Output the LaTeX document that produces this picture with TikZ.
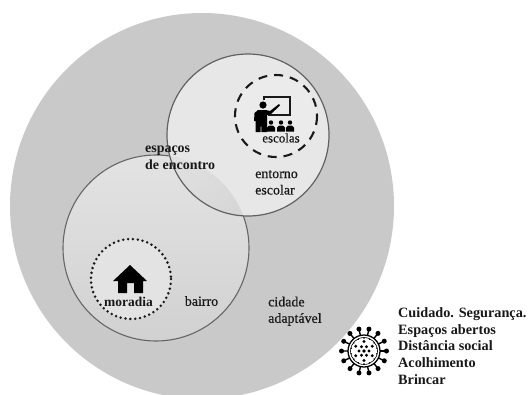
\documentclass[tikz,border=0pt]{standalone}
\usepackage{fontspec}
\setmainfont{Liberation Serif}
\newfontfamily\semifont[FakeBold=0.5]{Liberation Serif}
\usetikzlibrary{patterns}
\definecolor{bigc}{HTML}{C9C9C9}
\definecolor{bairroc}{HTML}{D9D9D9}
\definecolor{topc}{HTML}{E7E7E7}
\definecolor{inkc}{HTML}{181818}
\tikzset{
  labbold/.style={font=\bfseries\fontsize{14}{17}\selectfont, text=inkc, inner sep=0pt, align=left},
  labreg/.style={font=\semifont\fontsize{14}{16.5}\selectfont, text=inkc, inner sep=0pt, align=left},
  side/.style={font=\bfseries\fontsize{14.3}{17}\selectfont, text=inkc, inner sep=0pt, align=left, anchor=north west},
  ring/.style={draw=black!62, line width=1.2pt},
}
\begin{document}
\begin{tikzpicture}[x=1bp,y=-1bp]
\useasboundingbox (0,0) rectangle (529,394);
\fill[white] (0,0) rectangle (529,394);
% city
\begin{scope}
\clip (0,0) rectangle (529,394);
\fill[bigc] (202,206) ellipse (192 and 193);
\end{scope}
% neighbourhood
\shade[top color=black!11, bottom color=black!18, draw=black!60, line width=1.1pt] (156,248) circle (93);
% school surroundings
\fill[topc] (248,135) circle (81);
% shared area
\begin{scope}
  \clip (248,135) circle (81);
  \shade[left color=topc, right color=black!20, shading angle=40] (156,248) circle (93);
  \fill[pattern=dots, pattern color=black!15] (156,248) circle (93);
\end{scope}
\draw[ring] (248,135) circle (81);
% moradia ring
\fill[black!11] (131,279) circle (40);
\draw[black!90, line width=2.8pt, line cap=round, dash pattern=on 0pt off 4.9pt] (131,279) circle (40);
% escolas ring
\fill[black!8] (276,116) circle (41);
\draw[black!90, line width=2.1pt, dash pattern=on 9pt off 7pt] (276,116) circle (41);
% house
\fill[black] (130,265) -- (147,281) -- (143,281) -- (143,293) -- (134,293) -- (134,283) -- (127,283) -- (127,293) -- (118,293) -- (118,281) -- (113,281) -- cycle;
% teacher and board
\draw[black!90, line width=1.2pt] (264,100) -- (264,97) -- (290,97) -- (290,115) -- (268,115);
\fill[black] (263,105) circle (3.6);
\fill[black] (258,110) -- (266,110) -- (270,111) -- (279,104) -- (280,105.5) -- (271,114) -- (267,115) -- (267,132) -- (261.5,132) -- (261,121) -- (260.5,132) -- (255.5,132) -- (255.5,121) -- (254,121) -- (254.5,113) -- cycle;
\foreach \xc in {271,281,290}{
  \fill[black] (\xc,122.5) circle (2.2);
  \fill[black] (\xc-4,131.5) -- (\xc-4,127.5) -- (\xc-2,125.5) -- (\xc+2,125.5) -- (\xc+4,127.5) -- (\xc+4,131.5) -- cycle;
}
% virus
\begin{scope}[shift={(364,351)}]
  \draw[black, line width=1.3pt] (0,0) circle (16);
  \draw[black, line width=.6pt] (0,0) circle (13.5);
  \foreach \a in {0,25.7,...,340}{
    \draw[black, line width=1.4pt] (\a:16) -- (\a:22);
    \fill[black] (\a:22.5) circle (2.5);
    \fill[black] (\a+12.8:13) circle (.8);
  }
  \fill[black] (0,0) circle (1.8);
  \foreach \a in {0,60,...,300}{\fill[black] (\a:5) circle (1.6);}
  \foreach \a in {30,90,...,330}{\fill[black] (\a:9.5) circle (1.6);}
\end{scope}
% labels
\node[labreg, anchor=center, font=\semifont\fontsize{13}{14}\selectfont] (escolas) at (281,138) {escolas};
\node[labbold, anchor=north west] (encontro) at (145,146) {espaços\\de encontro};
\node[labreg, anchor=north west] (entorno) at (255,170) {entorno\\escolar};
\node[labbold, anchor=center, font=\bfseries\fontsize{13.5}{15}\selectfont] (moradia) at (128.5,302) {moradia};
\node[labreg, anchor=center] (bairro) at (201.5,301) {bairro};
\node[labreg, anchor=north west] (cidade) at (268,296.5) {cidade\\adaptável};
\node[side] (lista) at (398,307) {Cuidado. Segurança.\\Espaços abertos\\Distância social\\Acolhimento\\Brincar};
\end{tikzpicture}
\end{document}
